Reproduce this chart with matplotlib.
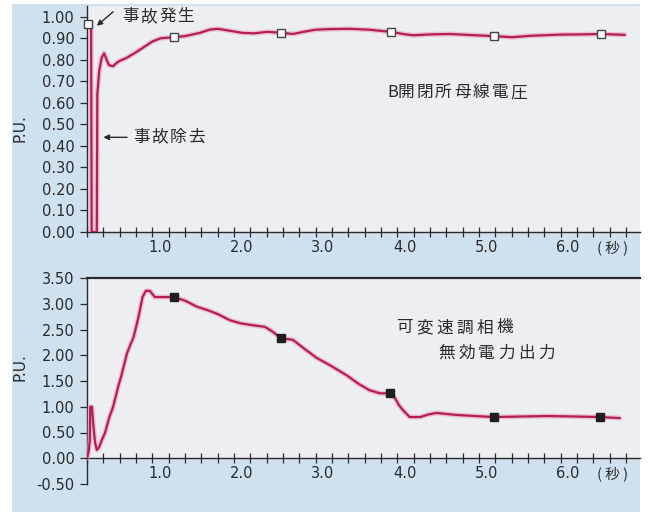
import numpy as np
import matplotlib.pyplot as plt
from matplotlib.patches import Rectangle
from matplotlib.ticker import MultipleLocator, FormatStrFormatter
from matplotlib.transforms import ScaledTranslation

plt.rcParams['font.family'] = ['DejaVu Sans', 'Noto Sans CJK JP']

# B開閉所母線電圧 (P.U.)
volt_t = [0.00, 0.05, 0.057, 0.12, 0.126, 0.15, 0.18, 0.21, 0.24, 0.27, 0.32,
          0.36, 0.40, 0.49, 0.60, 0.70, 0.80, 0.90, 1.06, 1.20, 1.38, 1.50,
          1.60, 1.75, 1.90, 2.05, 2.20, 2.37, 2.52, 2.65, 2.80, 3.00, 3.22,
          3.45, 3.72, 3.90, 4.00, 4.20, 4.44, 4.70, 4.98, 5.20, 5.45, 5.80,
          6.05, 6.29, 6.58]
volt_v = [0.97, 0.97, 0.00, 0.00, 0.64, 0.75, 0.81, 0.83, 0.80, 0.775, 0.77,
          0.785, 0.795, 0.81, 0.835, 0.86, 0.885, 0.90, 0.905, 0.91, 0.925, 0.94,
          0.944, 0.935, 0.925, 0.923, 0.93, 0.926, 0.92, 0.93, 0.94, 0.943, 0.944,
          0.94, 0.93, 0.918, 0.914, 0.918, 0.92, 0.915, 0.91, 0.905, 0.912, 0.917,
          0.918, 0.92, 0.916]
volt_mark_t = [0.01, 1.06, 2.37, 3.72, 4.98, 6.29]
volt_mark_v = [0.967, 0.905, 0.926, 0.93, 0.91, 0.92]

# 可変速調相機 無効電力出力 (P.U.)
q_t = [0.00, 0.02, 0.035, 0.04, 0.06, 0.08, 0.10, 0.12, 0.15, 0.18, 0.22,
       0.27, 0.32, 0.38, 0.42, 0.49, 0.53, 0.57, 0.63, 0.68, 0.72, 0.77,
       0.83, 0.95, 1.06, 1.20, 1.35, 1.47, 1.60, 1.75, 1.88, 2.00, 2.18,
       2.28, 2.37, 2.52, 2.65, 2.81, 2.97, 3.18, 3.32, 3.46, 3.59, 3.71,
       3.77, 3.82, 3.87, 3.95, 4.08, 4.18, 4.28, 4.40, 4.53, 4.75, 4.98,
       5.30, 5.63, 6.00, 6.28, 6.52]
q_v = [0.00, 0.12, 0.35, 1.00, 1.00, 0.60, 0.30, 0.16, 0.22, 0.35, 0.49,
       0.78, 1.00, 1.38, 1.60, 2.04, 2.20, 2.35, 2.74, 3.13, 3.25, 3.25,
       3.13, 3.13, 3.13, 3.06, 2.94, 2.88, 2.80, 2.68, 2.62, 2.59, 2.55,
       2.45, 2.33, 2.30, 2.14, 1.95, 1.81, 1.61, 1.45, 1.32, 1.26, 1.26,
       1.17, 1.03, 0.93, 0.80, 0.80, 0.85, 0.88, 0.86, 0.84, 0.82, 0.80,
       0.81, 0.82, 0.81, 0.80, 0.78]
q_mark_t = [1.06, 2.37, 3.71, 4.98, 6.28]
q_mark_v = [3.13, 2.33, 1.26, 0.80, 0.80]

x_major = [1.0, 2.0, 3.0, 4.0, 5.0, 6.0]

LINE = '#b51d55'
HALO = '#eaa0bb'
BG = '#cfe0ee'
PANEL = '#eceef2'
INK = '#2a2a2a'
JP = ['Noto Sans CJK JP', 'DejaVu Sans']

W, H = 648, 516


def spaced_text(ax, x, y, s, step=13.3, size=12):
    """文字間隔を広げて一文字ずつ描く."""
    off = 0.0
    for ch in s:
        tr = ax.transData + ScaledTranslation(off / 72, 0, ax.figure.dpi_scale_trans)
        ax.text(x, y, ch, transform=tr, family=JP, fontsize=size,
                color=INK, va='center', ha='left')
        off += 7 if ch.isascii() else step


def style_axis(ax, fig):
    ax.set_xlim(0, 6.77)
    ax.spines['right'].set_visible(False)
    for s in ['left', 'bottom', 'top']:
        ax.spines[s].set_color(INK)
        ax.spines[s].set_linewidth(1.0)
    ax.xaxis.set_major_locator(plt.FixedLocator(x_major))
    ax.xaxis.set_minor_locator(MultipleLocator(0.2))
    ax.xaxis.set_major_formatter(FormatStrFormatter('%.1f'))
    ax.yaxis.set_major_formatter(FormatStrFormatter('%.2f'))
    ax.tick_params(axis='x', which='both', direction='inout', length=7,
                   width=0.9, color=INK, labelsize=10.5, labelcolor=INK, pad=2)
    ax.tick_params(axis='y', direction='out', length=5, width=0.9,
                   color=INK, labelsize=10.5, labelcolor=INK, pad=4)
    shift = ScaledTranslation(-9 / 100, 0, fig.dpi_scale_trans)
    for lab in ax.get_xticklabels():
        lab.set_transform(lab.get_transform() + shift)
    ax.annotate('( 秒 )', (6.43, 0), xycoords='data', xytext=(0, -11.5),
                textcoords='offset points', ha='center', va='center',
                family=JP, fontsize=10.5, color=INK)


def draw_curve(ax, t, v):
    ax.plot(t, v, color=HALO, lw=3.6, alpha=0.6, solid_capstyle='round', zorder=3)
    ax.plot(t, v, color=LINE, lw=1.6, solid_joinstyle='round', zorder=4)


fig = plt.figure(figsize=(W / 100, H / 100), dpi=100, facecolor='white')
fig.add_artist(Rectangle((12 / W, 4 / H), (640 - 12) / W, (512 - 4) / H,
                         transform=fig.transFigure, facecolor=BG,
                         edgecolor='none', zorder=-10))

# 上段: 母線電圧
ax1 = fig.add_axes([87 / W, (H - 232) / H, (640 - 87) / W, 226 / H])
ax1.set_facecolor(PANEL)
ax1.set_ylim(0, 1.05)
ax1.yaxis.set_major_locator(plt.FixedLocator(np.arange(0, 1.01, 0.1)))
ax1.spines['top'].set_visible(False)
draw_curve(ax1, volt_t, volt_v)
ax1.plot(volt_mark_t, volt_mark_v, 's', ms=6, mfc='white', mec='#444444',
         mew=1.0, zorder=5, clip_on=False)
style_axis(ax1, fig)
ax1.set_ylabel('P.U.', fontsize=11, color=INK)
ax1.yaxis.set_label_coords(-0.107, 0.46)

spaced_text(ax1, 0.43, 1.0, '事故発生')
ax1.annotate('', xy=(0.12, 0.958), xytext=(0.32, 1.023),
             arrowprops=dict(arrowstyle='-|>', color=INK, lw=1.0,
                             mutation_scale=8, shrinkA=0, shrinkB=0),
             annotation_clip=False)
spaced_text(ax1, 0.56, 0.44, '事故除去')
ax1.annotate('', xy=(0.20, 0.44), xytext=(0.49, 0.44),
             arrowprops=dict(arrowstyle='-|>', color=INK, lw=1.0,
                             mutation_scale=8, shrinkA=0, shrinkB=0))
spaced_text(ax1, 3.68, 0.647, 'B開閉所母線電圧', step=13.6)

# 下段: 無効電力出力
ax2 = fig.add_axes([87 / W, (H - 484) / H, (640 - 87) / W, 206 / H])
ax2.patch.set_alpha(0)
ax2.axhspan(0, 3.5, facecolor=PANEL, edgecolor='none', zorder=0)
ax2.set_ylim(-0.5, 3.5)
ax2.yaxis.set_major_locator(plt.FixedLocator(np.arange(-0.5, 3.51, 0.5)))
ax2.spines['bottom'].set_position(('data', 0))
draw_curve(ax2, q_t, q_v)
ax2.plot(q_mark_t, q_mark_v, 's', ms=5.5, color='#1e1e1e', zorder=5)
style_axis(ax2, fig)
ax2.spines['top'].set_linewidth(1.6)
ax2.set_ylabel('P.U.', fontsize=11, color=INK)
ax2.yaxis.set_label_coords(-0.107, 0.568)

spaced_text(ax2, 3.79, 2.53, '可変速調相機', step=14.4)
spaced_text(ax2, 4.30, 2.04, '無効電力出力', step=14.4)

fig.savefig('out.png', dpi=100, facecolor=fig.get_facecolor())
